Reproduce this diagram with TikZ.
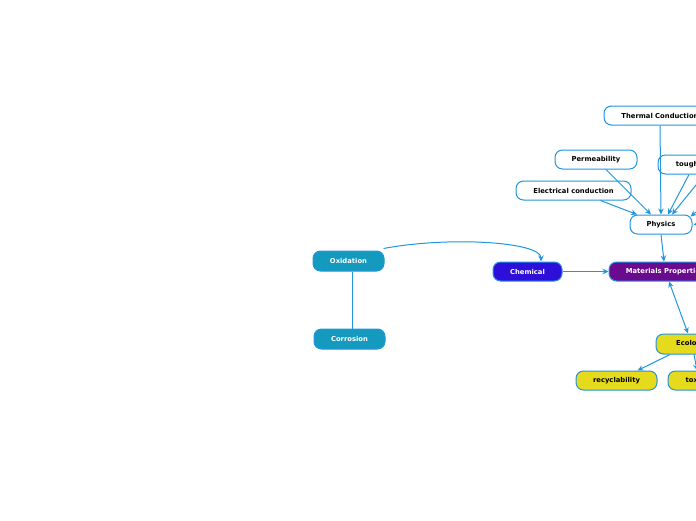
\documentclass[tikz,border=0pt]{standalone}
\usepackage{fontspec}
\setmainfont{DejaVu Sans}
\usetikzlibrary{arrows.meta}
\definecolor{lineblue}{HTML}{2196DE}
\definecolor{teal}{HTML}{1499BF}
\definecolor{chem}{HTML}{2E0FDA}
\definecolor{matp}{HTML}{6A0A8E}
\definecolor{eco}{HTML}{E5DA1C}
\tikzset{
  box/.style={draw=lineblue, line width=1pt, rounded corners=7.5pt, minimum height=19pt,
    inner sep=0pt, font=\fontsize{6.8}{8}\selectfont\bfseries, text=black, fill=white},
  whitebox/.style={box},
  tealbox/.style={box, fill=teal, text=white},
  chembox/.style={box, fill=chem, text=white},
  matbox/.style={box, fill=matp, text=white},
  ecobox/.style={box, fill=eco},
  conn/.style={draw=lineblue, line width=1pt, -{Stealth[length=6pt,width=5.5pt]}},
  conntwo/.style={draw=lineblue, line width=1pt, {Stealth[length=6pt,width=5.5pt]}-{Stealth[length=6pt,width=5.5pt]}},
  plain/.style={draw=lineblue, line width=1pt},
}
\begin{document}
\begin{tikzpicture}[x=1pt,y=-1pt]
\useasboundingbox (0,0) rectangle (696,520);
\clip (0,0) rectangle (696,520);
\fill[white] (0,0) rectangle (696,520);
% nodes
\node[whitebox, minimum width=112pt] (thermal) at (660,115.5) {Thermal Conduction};
\node[whitebox, minimum width=82pt] (perm) at (596,159.5) {Permeability};
\node[whitebox, minimum width=76pt] (tough) at (696,164.5) {toughness};
\node[whitebox, minimum width=115pt] (elec) at (573.5,190.5) {Electrical conduction};
\node[whitebox, minimum width=62pt] (physics) at (661,224.5) {Physics};
\node[matbox, minimum width=112pt] (mat) at (665,271.5) {Materials Properties};
\node[chembox, minimum width=69pt] (chem) at (527.5,271.5) {Chemical};
\node[tealbox, minimum width=71pt, minimum height=20pt] (oxid) at (348.5,261) {Oxidation};
\node[tealbox, minimum width=71pt, minimum height=20pt] (corr) at (349.5,339) {Corrosion};
\node[ecobox, minimum width=70pt, minimum height=20pt] (eco) at (691,344) {Ecology};
\node[ecobox, minimum width=81pt] (recyc) at (616.5,380.5) {recyclability};
\node[ecobox, minimum width=64pt] (tox) at (700,380.5) {toxicity};
\coordinate (offa) at (745,125);
\coordinate (offb) at (716,196);
\coordinate (offc) at (720,221);
% connectors
\draw[conn] (thermal.south) -- (physics.north);
\draw[conn] ([xshift=10pt]perm.south) -- ([xshift=-10pt]physics.north);
\draw[conn] ([xshift=27pt]elec.south) -- ([xshift=-24pt]physics.north);
\draw[conn] ([xshift=-7pt]tough.south) -- ([xshift=7pt]physics.north);
\draw[conn] (offa) -- ([xshift=11pt]physics.north);
\draw[conn] (offb) -- ([xshift=-2pt,yshift=-2pt]physics.north east);
\draw[conn] (offc) -- ([xshift=1pt]physics.east);
\draw[conn] (physics.south) -- ([xshift=-1pt]mat.north);
\draw[conn] (chem.east) -- (mat.west);
\draw[conntwo] ([xshift=4pt]mat.south) -- ([xshift=-3pt]eco.north);
\draw[conn] ([xshift=-21pt]eco.south) -- ([xshift=21pt]recyc.north);
\draw[conn] ([xshift=3pt]eco.south) -- ([xshift=-3pt]tox.north);
\draw[conn] ([xshift=-1pt,yshift=2pt]oxid.north east) .. controls (450,236) and (541,242) .. ([xshift=13.5pt]chem.north);
\draw[plain] ([xshift=3.5pt]oxid.south) -- ([xshift=2.5pt]corr.north);
\end{tikzpicture}
\end{document}
